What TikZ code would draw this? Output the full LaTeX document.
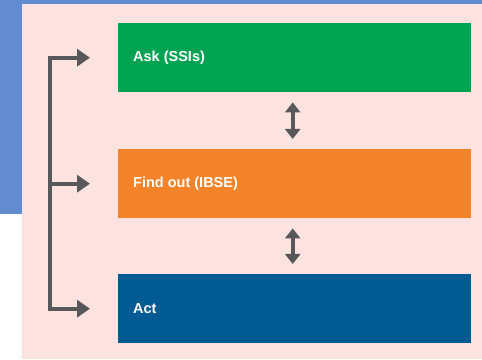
\documentclass[tikz,border=0pt]{standalone}
\usepackage{fontspec}
\setmainfont{Liberation Sans}
\usetikzlibrary{arrows.meta}
\definecolor{bgblue}{RGB}{98,140,207}
\definecolor{bgpink}{RGB}{253,227,223}
\definecolor{askgreen}{RGB}{0,163,82}
\definecolor{findorange}{RGB}{245,131,42}
\definecolor{actblue}{RGB}{0,90,147}
\definecolor{arrowgray}{RGB}{88,88,90}
\tikzset{
  stagebox/.style={minimum width=353pt, minimum height=69pt, inner sep=0pt, draw=none},
  stagetext/.style={text=white, font=\fontsize{14.5}{16}\selectfont\bfseries, anchor=west, inner sep=0pt},
  conn/.style={draw=arrowgray, line width=4pt, miter limit=10},
  tip/.style={-{Triangle[length=13pt,width=17pt]}},
  dbl/.style={{Triangle[length=10pt,width=15pt]}-{Triangle[length=10pt,width=15pt]}, draw=arrowgray, line width=4pt, shorten <=10pt, shorten >=10pt}
}
\begin{document}
\begin{tikzpicture}[x=1pt,y=1pt]
\useasboundingbox (0,0) rectangle (482,359);
% backgrounds
\fill[white] (0,0) rectangle (482,359);
\fill[bgblue] (0,145) rectangle (482,359);
\fill[bgpink] (22,0) rectangle (482,355);
% boxes
\node[stagebox, fill=askgreen, anchor=north west] (ask) at (118,336) {};
\node[stagebox, fill=findorange, anchor=north west] (find) at (118,210) {};
\node[stagebox, fill=actblue, anchor=north west] (act) at (118,85) {};
\node[stagetext] (asktxt) at ([xshift=15pt]ask.west) {Ask (SSIs)};
\node[stagetext] (findtxt) at ([xshift=15pt]find.west) {Find out (IBSE)};
\node[stagetext] (acttxt) at ([xshift=15pt]act.west) {Act};
% left feedback bracket
\coordinate (tA) at (50,0 |- ask.west);
\coordinate (tB) at (50,0 |- find.west);
\coordinate (tC) at (50,0 |- act.west);
\coordinate (askTip) at ([xshift=-28pt]ask.west);
\coordinate (findTip) at ([xshift=-28pt]find.west);
\coordinate (actTip) at ([xshift=-28pt]act.west);
\draw[conn, {Triangle[length=13pt,width=17pt]}-{Triangle[length=13pt,width=17pt]}] (askTip) -- (tA) -- (tC) -- (actTip);
\draw[conn, tip] (tB) -- (findTip);
% double arrows between boxes
\draw[dbl] ([xshift=-2pt]ask.south) -- ([xshift=-2pt]find.north);
\draw[dbl] ([xshift=-2pt]find.south) -- ([xshift=-2pt]act.north);
\end{tikzpicture}
\end{document}
